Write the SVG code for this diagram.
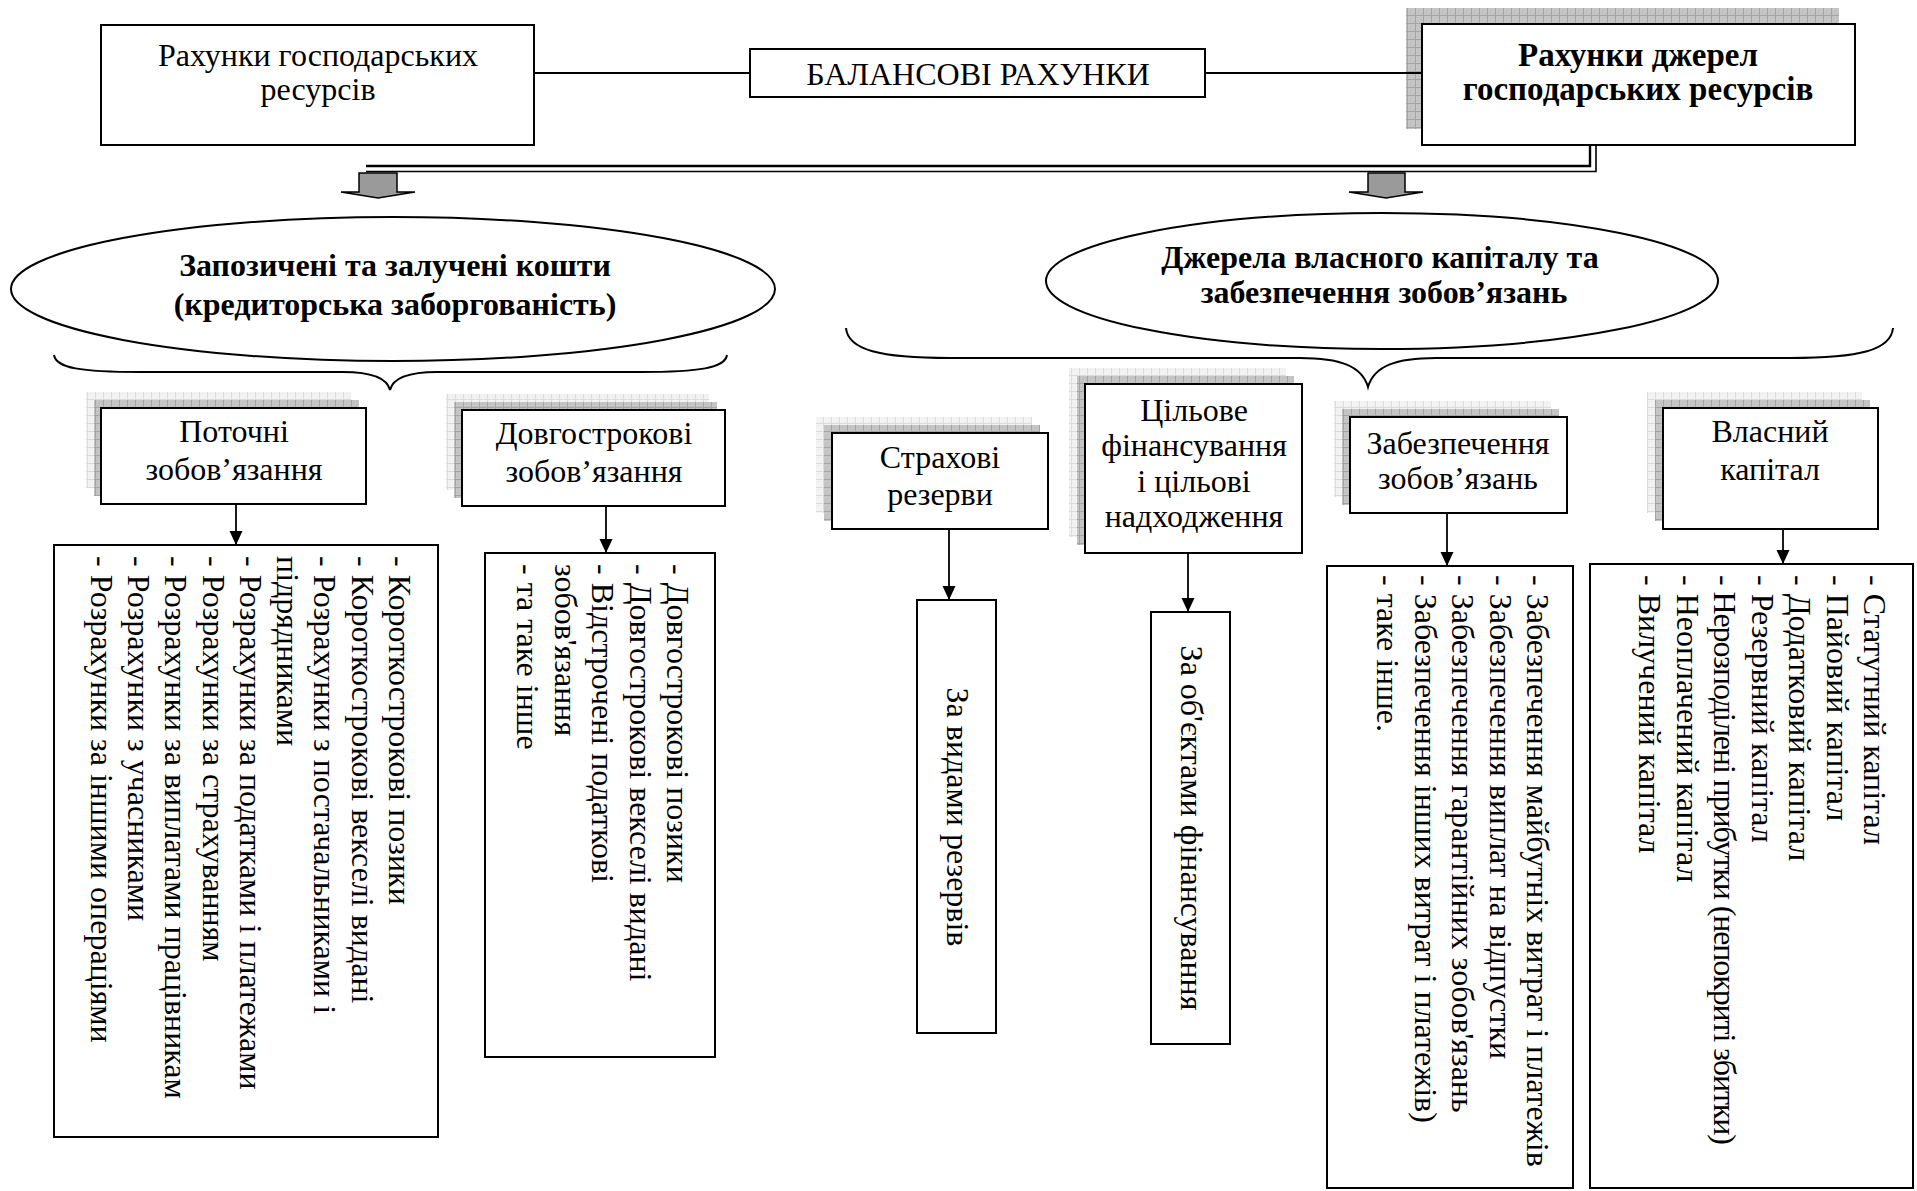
<svg xmlns="http://www.w3.org/2000/svg" width="1917" height="1191" viewBox="0 0 1917 1191">
  <style>
    .box { fill: #fff; stroke: #000; stroke-width: 2; }
    .ell { fill: #fff; stroke: #000; stroke-width: 2; }
    .line { fill: none; stroke: #000; stroke-width: 1.8; }
    .brace { fill: none; stroke: #000; stroke-width: 2; }
    .t { font-family: "Liberation Serif", "Times New Roman", serif; font-size: 32px; fill: #000; }
    .tb { font-family: "Liberation Serif", "Times New Roman", serif; font-size: 32px; font-weight: bold; fill: #000; }
    .tb33 { font-size: 33px; }
    .c { text-anchor: middle; }
    .big { fill: #9a9a9a; stroke: #000; stroke-width: 1.5; stroke-linejoin: miter; }
  </style>
  <defs>
    <pattern id="gridLight" width="8" height="8" patternUnits="userSpaceOnUse">
      <rect width="8" height="8" fill="#f2f2f2"/>
      <path d="M7.5 0V8M0 7.5H8" stroke="#dcdcdc" stroke-width="1"/>
    </pattern>
    <pattern id="gridDark" width="8" height="8" patternUnits="userSpaceOnUse">
      <rect width="8" height="8" fill="#c4c4c4"/>
      <path d="M7.5 0V8M0 7.5H8" stroke="#a4a4a4" stroke-width="1"/>
    </pattern>
    <marker id="arr" markerWidth="14" markerHeight="14" refX="14" refY="6.5" orient="auto" markerUnits="userSpaceOnUse">
      <path d="M0,0 L14,6.5 L0,13 z" fill="#000"/>
    </marker>
  </defs>

  <!-- top row -->
  <g id="assets-accounts">
    <rect class="box" x="101" y="25" width="433" height="120"/>
    <text class="t c" x="318" y="66">Рахунки господарських</text>
    <text class="t c" x="318" y="100">ресурсів</text>
  </g>
  <g id="balance-accounts">
    <rect class="box" x="750" y="49" width="455" height="48"/>
    <text class="t c" x="978" y="85">БАЛАНСОВІ РАХУНКИ</text>
  </g>
  <g id="sources-accounts">
    <rect x="1406" y="8" width="433" height="121" fill="url(#gridDark)"/>
    <rect class="box" x="1422" y="24" width="433" height="121"/>
    <text class="tb tb33 c" x="1638" y="66">Рахунки джерел</text>
    <text class="tb tb33 c" x="1638" y="100">господарських ресурсів</text>
  </g>

  <!-- second row: ellipses -->
  <g id="borrowed-funds">
    <ellipse class="ell" cx="393" cy="289" rx="382" ry="72"/>
    <text class="tb c" x="395" y="276">Запозичені та залучені кошти</text>
    <text class="tb c" x="395" y="315">(кредиторська заборгованість)</text>
  </g>
  <g id="own-capital-sources">
    <ellipse class="ell" cx="1382" cy="281" rx="336" ry="68"/>
    <text class="tb c" x="1380" y="268">Джерела власного капіталу та</text>
    <text class="tb c" x="1384" y="303">забезпечення зобов’язань</text>
  </g>

  <!-- third row: categories -->
  <g id="current-liabilities">
    <rect x="86" y="392" width="265" height="96" fill="url(#gridLight)"/>
    <rect x="94" y="400" width="265" height="96" fill="url(#gridDark)"/>
    <rect class="box" x="101" y="408" width="265" height="96"/>
    <text class="t c" x="234" y="442">Поточні</text>
    <text class="t c" x="234" y="480">зобов’язання</text>
  </g>
  <g id="long-term-liabilities">
    <rect x="446" y="394" width="263" height="96" fill="url(#gridLight)"/>
    <rect x="454" y="402" width="263" height="96" fill="url(#gridDark)"/>
    <rect class="box" x="462" y="410" width="263" height="96"/>
    <text class="t c" x="594" y="444">Довгострокові</text>
    <text class="t c" x="594" y="482">зобов’язання</text>
  </g>
  <g id="insurance-reserves">
    <rect x="816" y="417" width="216" height="96" fill="url(#gridLight)"/>
    <rect x="824" y="425" width="216" height="96" fill="url(#gridDark)"/>
    <rect class="box" x="832" y="433" width="216" height="96"/>
    <text class="t c" x="940" y="468">Страхові</text>
    <text class="t c" x="940" y="505">резерви</text>
  </g>
  <g id="target-financing">
    <rect x="1069" y="368" width="217" height="169" fill="url(#gridLight)"/>
    <rect x="1077" y="376" width="217" height="169" fill="url(#gridDark)"/>
    <rect class="box" x="1085" y="384" width="217" height="169"/>
    <text class="t c" x="1194" y="421">Цільове</text>
    <text class="t c" x="1194" y="456">фінансування</text>
    <text class="t c" x="1194" y="492">і цільові</text>
    <text class="t c" x="1194" y="527">надходження</text>
  </g>
  <g id="provisions">
    <rect x="1334" y="401" width="217" height="96" fill="url(#gridLight)"/>
    <rect x="1342" y="409" width="217" height="96" fill="url(#gridDark)"/>
    <rect class="box" x="1350" y="417" width="217" height="96"/>
    <text class="t c" x="1458" y="454">Забезпечення</text>
    <text class="t c" x="1458" y="489">зобов’язань</text>
  </g>
  <g id="equity">
    <rect x="1647" y="392" width="215" height="121" fill="url(#gridLight)"/>
    <rect x="1655" y="400" width="215" height="121" fill="url(#gridDark)"/>
    <rect class="box" x="1663" y="408" width="215" height="121"/>
    <text class="t c" x="1770" y="442">Власний</text>
    <text class="t c" x="1770" y="480">капітал</text>
  </g>

  <!-- bottom row: item lists, written downwards -->
  <g id="current-items">
    <rect class="box" x="54" y="545" width="384" height="592"/>
    <text class="t" transform="translate(389,556) rotate(90)">
      <tspan x="0" dy="0">- Короткострокові позики</tspan>
      <tspan x="0" dy="37.3">- Короткострокові векселі видані</tspan>
      <tspan x="0" dy="37.3">- Розрахунки з постачальниками і</tspan>
      <tspan x="0" dy="37.3">підрядниками</tspan>
      <tspan x="0" dy="37.3">- Розрахунки за податками і платежами</tspan>
      <tspan x="0" dy="37.3">- Розрахунки за страхуванням</tspan>
      <tspan x="0" dy="37.3">- Розрахунки за виплатами працівникам</tspan>
      <tspan x="0" dy="37.3">- Розрахунки з учасниками</tspan>
      <tspan x="0" dy="37.3">- Розрахунки за іншими операціями</tspan>
    </text>
  </g>
  <g id="long-term-items">
    <rect class="box" x="485" y="553" width="230" height="504"/>
    <text class="t" transform="translate(667,564) rotate(90)">
      <tspan x="0" dy="0">- Довгострокові позики</tspan>
      <tspan x="0" dy="37.5">- Довгострокові векселі видані</tspan>
      <tspan x="0" dy="37.5">- Відстрочені податкові</tspan>
      <tspan x="0" dy="37.5">зобов'язання</tspan>
      <tspan x="0" dy="37.5">- та таке інше</tspan>
    </text>
  </g>
  <g id="reserve-kinds">
    <rect class="box" x="917" y="600" width="79" height="433"/>
    <text class="t c" transform="translate(947,817) rotate(90)">За видами резервів</text>
  </g>
  <g id="financing-objects">
    <rect class="box" x="1151" y="612" width="79" height="432"/>
    <text class="t c" transform="translate(1181,828) rotate(90)">За об'єктами фінансування</text>
  </g>
  <g id="provision-items">
    <rect class="box" x="1327" y="566" width="246" height="622"/>
    <text class="t" transform="translate(1527,575) rotate(90)">
      <tspan x="0" dy="0">- Забезпечення майбутніх витрат і платежів</tspan>
      <tspan x="0" dy="37.5">- Забезпечення виплат на відпустки</tspan>
      <tspan x="0" dy="37.5">- Забезпечення гарантійних зобов'язань</tspan>
      <tspan x="0" dy="37.5">- Забезпечення інших витрат і платежів)</tspan>
      <tspan x="0" dy="37.5">- таке інше.</tspan>
    </text>
  </g>
  <g id="equity-items">
    <rect class="box" x="1590" y="564" width="323" height="624"/>
    <text class="t" transform="translate(1864,575) rotate(90)">
      <tspan x="0" dy="0">- Статутний капітал</tspan>
      <tspan x="0" dy="37.5">- Пайовий капітал</tspan>
      <tspan x="0" dy="37.5">- Додатковий капітал</tspan>
      <tspan x="0" dy="37.5">- Резервний капітал</tspan>
      <tspan x="0" dy="37.5" letter-spacing="-1.1">- Нерозподілені прибутки (непокриті збитки)</tspan>
      <tspan x="0" dy="37.5">- Неоплачений капітал</tspan>
      <tspan x="0" dy="37.5">- Вилучений капітал</tspan>
    </text>
  </g>

  <!-- connectors -->
  <g id="connectors">
    <line class="line" x1="534" y1="73" x2="750" y2="73"/>
    <line class="line" x1="1205" y1="73" x2="1422" y2="73"/>
    <!-- double rail from the sources box -->
    <path d="M366,166 H1590 V145" fill="none" stroke="#000" stroke-width="2.4"/>
    <path d="M366,171.5 H1596 V145" fill="none" stroke="#000" stroke-width="1.6"/>
    <!-- wide block arrows -->
    <path class="big" d="M359,173 H397 V192 H415 L378,198 L341,192 H359 Z"/>
    <path class="big" d="M1368,173 H1405 V192 H1423 L1386,198 L1349,192 H1368 Z"/>
    <!-- braces -->
    <path class="brace" d="M54,355 C56,368 80,372 141,372 L343,372 C370,372 387,378 390,390 C393,378 410,372 437,372 L640,372 C700,372 725,368 727,355"/>
    <path class="brace" d="M846,328 C848,350 880,358 950,358 L1300,358 C1340,358 1362,366 1368,387 C1374,366 1396,358 1436,358 L1790,358 C1860,358 1891,350 1893,328"/>
    <!-- category to list arrows -->
    <line class="line" x1="236" y1="504" x2="236" y2="545" marker-end="url(#arr)"/>
    <line class="line" x1="606" y1="506" x2="606" y2="553" marker-end="url(#arr)"/>
    <line class="line" x1="949" y1="529" x2="949" y2="600" marker-end="url(#arr)"/>
    <line class="line" x1="1188" y1="553" x2="1188" y2="612" marker-end="url(#arr)"/>
    <line class="line" x1="1447" y1="513" x2="1447" y2="566" marker-end="url(#arr)"/>
    <line class="line" x1="1783" y1="529" x2="1783" y2="564" marker-end="url(#arr)"/>
  </g>
</svg>
